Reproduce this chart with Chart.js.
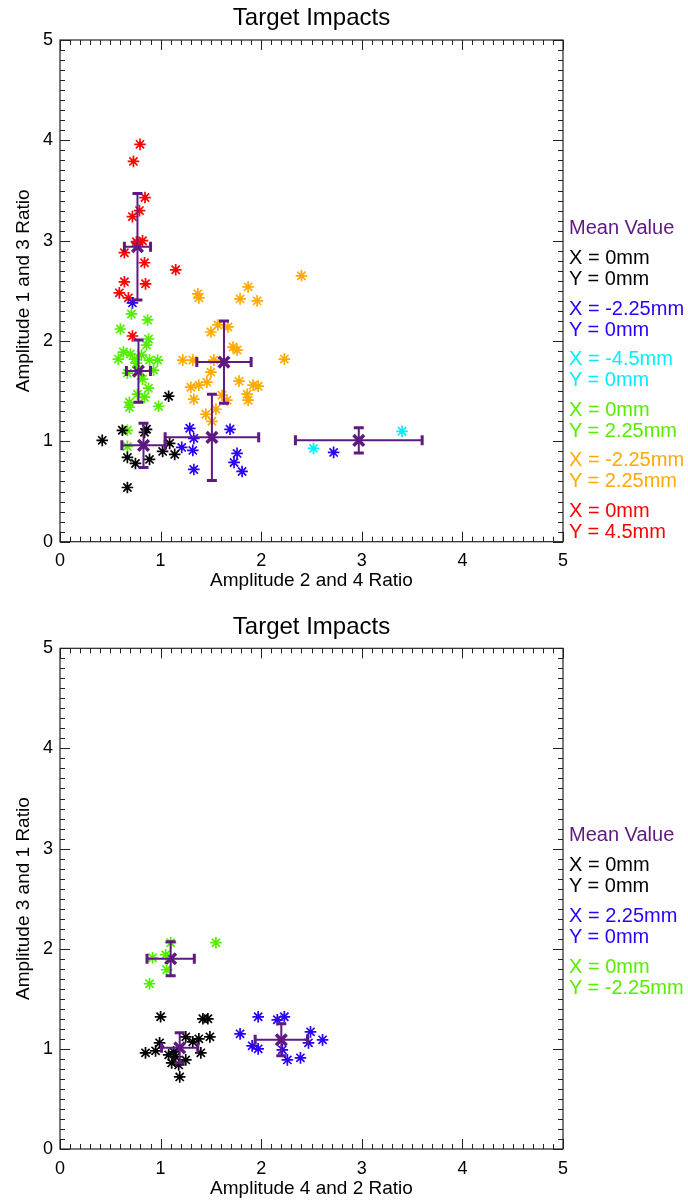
<!DOCTYPE html>
<html><head><meta charset="utf-8">
<script src="https://cdn.jsdelivr.net/npm/chart.js@4/dist/chart.umd.min.js"></script>
<style>
html,body{margin:0;padding:0;background:#fff;}
#wrap{position:relative;width:688px;height:1203px;overflow:hidden;font-family:"Liberation Sans",Arial,sans-serif;}
.cv{position:absolute;left:0;}
.leg{position:absolute;left:569px;font-size:20px;line-height:21px;white-space:nowrap;}
</style></head><body>
<div id="wrap">
<div class="cv" style="top:0"><canvas id="c1" width="688" height="605"></canvas></div>
<div class="cv" style="top:605px"><canvas id="c2" width="688" height="598"></canvas></div>
</div>
<script>
// ---------- DATA ----------
const chartTitle = 'Target Impacts';
const xTitle1 = 'Amplitude 2 and 4 Ratio';
const yTitle1 = 'Amplitude 1 and 3 Ratio';
const xTitle2 = 'Amplitude 4 and 2 Ratio';
const yTitle2 = 'Amplitude 3 and 1 Ratio';
const tickValues = [0, 1, 2, 3, 4, 5];

// Top chart groups
const blackX1 = [0.42,0.62,0.86,0.84,1.08,0.67,0.75,0.89,0.67,1.02,1.09,1.14];
const blackY1 = [1.01,1.11,1.12,1.09,1.45,0.84,0.78,0.82,0.54,0.90,0.98,0.87];
const blueX1 = [0.72,1.29,1.69,1.33,1.21,1.32,1.33,1.76,1.73,1.81,2.72];
const blueY1 = [2.38,1.13,1.12,1.03,0.94,0.91,0.72,0.88,0.79,0.70,0.89];
const cyanX1 = [2.52,3.40];
const cyanY1 = [0.93,1.10];
const greenX1 = [0.71,0.87,0.60,0.88,0.86,0.63,0.58,0.70,0.74,0.81,0.89,0.97,0.93,0.67,0.88,0.84,0.77,0.69,0.69,0.98,0.67,0.67,0.76,0.82];
const greenY1 = [2.27,2.21,2.12,2.02,1.96,1.89,1.82,1.87,1.82,1.86,1.81,1.81,1.71,1.68,1.53,1.44,1.47,1.39,1.34,1.35,1.11,0.95,1.78,1.62];
const orangeX1 = [2.40,1.87,1.37,1.38,1.79,1.96,1.57,1.67,1.50,1.72,1.76,1.22,1.32,1.53,2.23,1.50,1.46,1.38,1.30,1.78,1.92,1.97,1.86,1.33,1.61,1.66,1.87,1.45,1.55,1.51];
const orangeY1 = [2.65,2.54,2.47,2.43,2.42,2.40,2.16,2.14,2.09,1.94,1.91,1.81,1.81,1.81,1.82,1.69,1.59,1.56,1.54,1.60,1.56,1.55,1.47,1.42,1.46,1.41,1.41,1.27,1.32,1.20];
const redX1 = [0.795,0.73,0.845,0.79,0.72,0.76,0.82,0.64,0.84,1.15,0.64,0.85,0.59,0.68,0.72];
const redY1 = [3.96,3.79,3.43,3.30,3.24,2.99,3.00,2.88,2.78,2.71,2.59,2.57,2.48,2.43,2.05];
// Mean values and errors (black, blue, cyan, green, orange, red)
const meanX1 = [0.83,1.51,2.97,0.78,1.63,0.77];
const meanY1 = [0.96,1.04,1.01,1.70,1.79,2.94];
const errX1  = [0.215,0.465,0.63,0.12,0.27,0.13];
const errY1  = [0.22,0.43,0.125,0.31,0.41,0.53];
const legendLabels1 = [['X = 0mm','Y = 0mm'],['X = -2.25mm','Y = 0mm'],['X = -4.5mm','Y = 0mm'],['X = 0mm','Y = 2.25mm'],['X = -2.25mm','Y = 2.25mm'],['X = 0mm','Y = 4.5mm']];

// Bottom chart groups
const blackX2 = [1.00,1.42,1.47,0.85,0.95,0.99,1.25,1.32,1.38,1.49,1.40,1.08,1.13,1.15,1.11,1.18,1.25,1.19];
const blackY2 = [1.32,1.30,1.30,0.96,0.98,1.06,1.12,1.07,1.10,1.12,0.96,0.94,0.97,0.92,0.86,0.84,0.89,0.72];
const blueX2 = [1.97,2.16,2.23,1.79,1.91,1.97,2.21,2.26,2.39,2.49,2.47,2.61];
const blueY2 = [1.32,1.29,1.32,1.15,1.03,1.00,0.99,0.89,0.91,1.17,1.06,1.09];
const greenX2 = [1.10,1.55,0.92,1.05,1.06,0.89];
const greenY2 = [2.06,2.06,1.91,1.94,1.79,1.65];
const meanX2 = [1.19,2.20,1.10];
const meanY2 = [1.01,1.09,1.90];
const errX2  = [0.18,0.26,0.235];
const errY2  = [0.15,0.16,0.17];
const legendLabels2 = [['X = 0mm','Y = 0mm'],['X = 2.25mm','Y = 0mm'],['X = 0mm','Y = -2.25mm']];

// ---------- STYLE ----------
const FONT = '"Liberation Sans", Arial, Helvetica, sans-serif';
const PURPLE = '#5e1a80';
const COLORS1 = ['#000000','#2a00ff','#00eeff','#55ee00','#ffaa00','#ff0000'];
const COLORS2 = ['#000000','#2a00ff','#55ee00'];

function pts(xs, ys){ return xs.map((x,i)=>({x:x, y:ys[i]})); }

function starSet(xs, ys, color){
  return {data:pts(xs,ys), pointStyle:'star', pointRadius:5.8, pointBorderWidth:1.7,
          borderColor:color, backgroundColor:color, showLine:false};
}

const frameTicks = {
  id:'frameTicks',
  afterDatasetsDraw(chart, args, opts){
    const ctx = chart.ctx, xs = chart.scales.x, ys = chart.scales.y;
    ctx.save();
    ctx.strokeStyle = PURPLE;
    const mx = opts.mx, my = opts.my, ex = opts.ex, ey = opts.ey;
    for (let i=0;i<mx.length;i++){
      const cx = xs.getPixelForValue(mx[i]), cy = ys.getPixelForValue(my[i]);
      const x0 = xs.getPixelForValue(mx[i]-ex[i]), x1 = xs.getPixelForValue(mx[i]+ex[i]);
      const y0 = ys.getPixelForValue(my[i]-ey[i]), y1 = ys.getPixelForValue(my[i]+ey[i]);
      ctx.lineWidth = 2;
      ctx.beginPath();
      ctx.moveTo(x0,cy); ctx.lineTo(x1,cy);
      ctx.moveTo(cx,y0); ctx.lineTo(cx,y1);
      ctx.stroke();
      ctx.lineWidth = 3;
      ctx.beginPath();
      ctx.moveTo(x0,cy-5); ctx.lineTo(x0,cy+5);
      ctx.moveTo(x1,cy-5); ctx.lineTo(x1,cy+5);
      ctx.moveTo(cx-5,y0); ctx.lineTo(cx+5,y0);
      ctx.moveTo(cx-5,y1); ctx.lineTo(cx+5,y1);
      ctx.stroke();
    }
    ctx.restore();
  },
  afterDraw(chart){
    const ctx = chart.ctx, xs = chart.scales.x, ys = chart.scales.y;
    const a = chart.chartArea;
    ctx.save();
    ctx.strokeStyle = '#222';
    ctx.lineWidth = 1.2;
    ctx.strokeRect(a.left, a.top, a.right-a.left, a.bottom-a.top);
    ctx.lineWidth = 1;
    ctx.beginPath();
    for (let k=0;k<=50;k++){
      const v = k/10;
      const len = (k%10===0) ? 10 : 5;
      const px = Math.round(xs.getPixelForValue(v))+0.5;
      const py = Math.round(ys.getPixelForValue(v))+0.5;
      ctx.moveTo(px,a.bottom); ctx.lineTo(px,a.bottom-len);
      ctx.moveTo(px,a.top); ctx.lineTo(px,a.top+len);
      ctx.moveTo(a.left,py); ctx.lineTo(a.left+len,py);
      ctx.moveTo(a.right,py); ctx.lineTo(a.right-len,py);
    }
    ctx.stroke();
    ctx.restore();
  }
};

function makeChart(id, cfg){
  const datasets = cfg.groups.map(g=>starSet(g[0],g[1],g[2]));
  datasets.push({data:pts(cfg.mx,cfg.my), pointStyle:'crossRot', pointRadius:7.5, pointBorderWidth:3.5,
                 borderColor:PURPLE, backgroundColor:PURPLE, showLine:false});
  return new Chart(document.getElementById(id), {
    type:'scatter',
    data:{datasets:datasets},
    plugins:[frameTicks],
    options:{
      responsive:false, animation:false, events:[],
      layout:{padding:{left:0,right:125,top:0,bottom:0}},
      plugins:{
        legend:{display:false}, tooltip:{enabled:false},
        title:{display:true, text:chartTitle, fullSize:false, color:'#000',
               font:{family:FONT,size:24,weight:'normal'}, padding:cfg.titlePad},
        frameTicks:{mx:cfg.mx,my:cfg.my,ex:cfg.ex,ey:cfg.ey}
      },
      scales:{
        x:{type:'linear',min:0,max:5,
           afterBuildTicks(s){ s.ticks = tickValues.map(v=>({value:v})); },
           ticks:{padding:9,color:'#000',font:{family:FONT,size:18},maxRotation:0},
           grid:{display:false,drawTicks:false}, border:{display:false},
           title:{display:true,text:cfg.xTitle,color:'#000',font:{family:FONT,size:19},padding:{top:0,bottom:cfg.xTitlePadB}},
           afterFit(s){ s.height = cfg.xH; }},
        y:{type:'linear',min:0,max:5,
           afterBuildTicks(s){ s.ticks = tickValues.map(v=>({value:v})); },
           ticks:{padding:7,color:'#000',font:{family:FONT,size:18}},
           grid:{display:false,drawTicks:false}, border:{display:false},
           title:{display:true,text:cfg.yTitle,color:'#000',font:{family:FONT,size:19},padding:{top:12,bottom:0}},
           afterFit(s){ s.width = 60; }}
      }
    }
  });
}

makeChart('c1', {
  groups:[[blackX1,blackY1,COLORS1[0]],[blueX1,blueY1,COLORS1[1]],[cyanX1,cyanY1,COLORS1[2]],
          [greenX1,greenY1,COLORS1[3]],[orangeX1,orangeY1,COLORS1[4]],[redX1,redY1,COLORS1[5]]],
  mx:meanX1,my:meanY1,ex:errX1,ey:errY1,
  xTitle:xTitle1,yTitle:yTitle1,
  titlePad:{top:4,bottom:7.2}, xH:63.3, xTitlePadB:13
});
makeChart('c2', {
  groups:[[blackX2,blackY2,COLORS2[0]],[blueX2,blueY2,COLORS2[1]],[greenX2,greenY2,COLORS2[2]]],
  mx:meanX2,my:meanY2,ex:errX2,ey:errY2,
  xTitle:xTitle2,yTitle:yTitle2,
  titlePad:{top:7.6,bottom:6.9}, xH:54, xTitlePadB:2.8
});

// ---------- Legends (HTML text) ----------
function addLegend(labels, colors, meanCenter, firstCenter, step){
  const wrap = document.getElementById('wrap');
  const add = (txt,color,center)=>{
    const d = document.createElement('div');
    d.className='leg'; d.textContent=txt; d.style.color=color;
    d.style.top=(center-11)+'px';
    wrap.appendChild(d);
  };
  add('Mean Value', PURPLE, meanCenter);
  labels.forEach((pair,i)=>{
    add(pair[0], colors[i], firstCenter + i*step);
    add(pair[1], colors[i], firstCenter + i*step + 21);
  });
}
addLegend(legendLabels1, COLORS1, 228, 258, 50.5);
addLegend(legendLabels2, COLORS2, 835, 865, 51);
</script>
</body></html>
